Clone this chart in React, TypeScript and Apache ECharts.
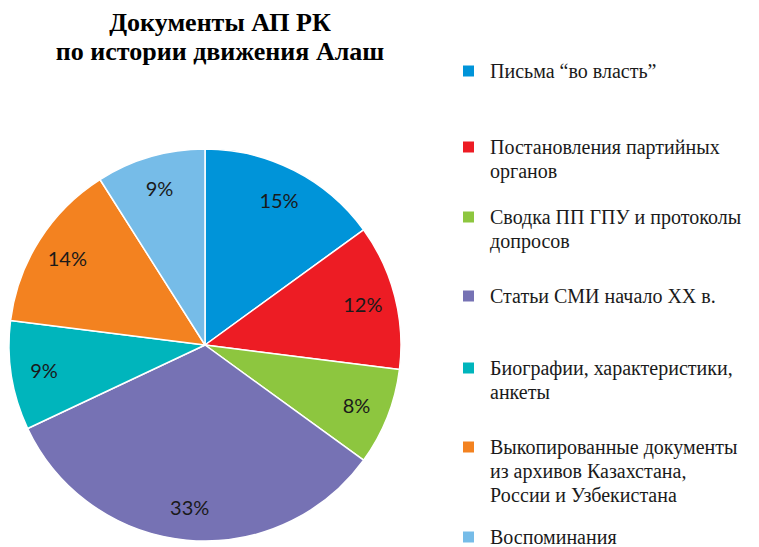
import React, { useEffect, useRef } from "react";
import * as echarts from "echarts";

const TITLE = "Документы АП РК\nпо истории движения Алаш";
const categories = [
  "Письма “во власть”",
  "Постановления партийных\nорганов",
  "Сводка ПП ГПУ и протоколы\nдопросов",
  "Статьи СМИ начало XX в.",
  "Биографии, характеристики,\nанкеты",
  "Выкопированные документы\nиз архивов Казахстана,\nРоссии и Узбекистана",
  "Воспоминания",
];
const values = [15, 12, 8, 33, 9, 14, 9];
const colors = ["#0094d9", "#ed1c24", "#8dc63f", "#7672b4", "#00b5bc", "#f38220", "#76bce8"];
const legendCenters = [71, 147, 217, 296, 368, 447, 537];

const LINE = 24;

export default function App() {
  const ref = useRef<HTMLDivElement>(null);
  useEffect(() => {
    if (!ref.current) return;
    const chart = echarts.init(ref.current, undefined, { renderer: "svg" });
    const data = categories.map((name, i) => ({
      name,
      value: values[i],
      itemStyle: { color: colors[i] },
    }));
    const legends = categories.map((name, i) => {
      const n = name.split("\n").length;
      return {
        show: true,
        data: [name],
        orient: "vertical",
        left: 461,
        top: legendCenters[i] - ((2 * n - 1) * LINE) / 2,
        padding: 0,
        itemWidth: 13,
        itemHeight: 13,
        icon: "rect",
        selectedMode: false,
        formatter: (nm: string) => "\n".repeat(n - 1) + nm,
        textStyle: {
          fontFamily: "Liberation Serif",
          fontSize: 20,
          lineHeight: LINE,
          color: "#1a1a1a",
          padding: [0, 0, 0, 10],
        },
      };
    });
    chart.setOption({
      animation: false,
      backgroundColor: "#ffffff",
      title: {
        text: TITLE,
        left: 220,
        top: 8,
        padding: 0,
        textAlign: "center",
        textStyle: {
          fontFamily: "Liberation Serif",
          fontWeight: "bold",
          fontSize: 26,
          lineHeight: 29,
          color: "#000",
        },
      },
      legend: legends,
      series: [
        {
          type: "pie",
          center: [205, 345],
          radius: [0, 196],
          startAngle: 90,
          clockwise: true,
          silent: true,
          emphasis: { disabled: true },
          label: { show: false },
          labelLine: { show: false },
          itemStyle: { borderColor: "#ffffff", borderWidth: 1.5 },
          data,
        },
        {
          type: "pie",
          center: [205, 345],
          radius: [124, 196],
          startAngle: 90,
          clockwise: true,
          silent: true,
          emphasis: { disabled: true },
          itemStyle: { color: "rgba(0,0,0,0)", borderWidth: 0 },
          label: {
            show: true,
            position: "inside",
            formatter: "{c}%",
            fontFamily: "Lato",
            fontSize: 20,
            color: "#1a1a1a",
          },
          labelLine: { show: false },
          data: categories.map((name, i) => ({
            name,
            value: values[i],
            itemStyle: { color: "rgba(0,0,0,0)" },
          })),
        },
      ],
    });
    return () => chart.dispose();
  }, []);
  return (
    <div
      ref={ref}
      style={{ position: "absolute", left: 0, top: 0, width: 759, height: 547 }}
    />
  );
}
